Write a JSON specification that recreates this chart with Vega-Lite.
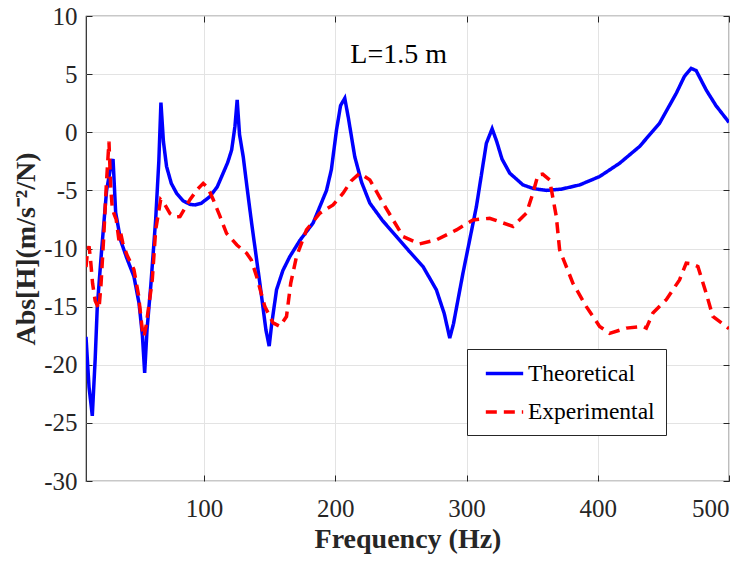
{
  "$schema": "https://vega.github.io/schema/vega-lite/v6.json",
  "width": 643,
  "height": 465,
  "autosize": {"type": "none"},
  "padding": {"left": 86, "top": 16, "right": 24, "bottom": 80},
  "background": "white",
  "config": {
    "font": "Liberation Serif",
    "view": {"stroke": "#262626", "strokeWidth": 1.2},
    "axis": {
      "labelFont": "Liberation Serif",
      "labelFontSize": 25,
      "labelColor": "#262626",
      "labelExpr": "replace(datum.label, '\u2212', '-')",
      "domain": false,
      "tickColor": "#262626",
      "tickSize": -6,
      "gridColor": "#e3e3e3",
      "gridWidth": 1,
      "titleFont": "Liberation Serif",
      "titleFontWeight": "bold",
      "titleFontSize": 28,
      "titleColor": "#262626"
    },
    "legend": {
      "orient": "none",
      "legendX": 381,
      "legendY": 333,
      "strokeColor": "#262626",
      "fillColor": "white",
      "padding": 11,
      "symbolType": "M-1.59,0H1.59",
      "symbolSize": 552,
      "symbolStrokeWidth": 3.5,
      "symbolOffset": 13,
      "labelFont": "Liberation Serif",
      "labelFontSize": 23.5,
      "labelColor": "black",
      "labelOffset": 10,
      "rowPadding": 13.5,
      "title": null
    }
  },
  "datasets": {
    "curves": [
      {"f": 10, "v": -17.6, "series": "Theoretical"},
      {"f": 12.3, "v": -21.9, "series": "Theoretical"},
      {"f": 14.8, "v": -24.4, "series": "Theoretical"},
      {"f": 17, "v": -19.5, "series": "Theoretical"},
      {"f": 18.6, "v": -15, "series": "Theoretical"},
      {"f": 22, "v": -10, "series": "Theoretical"},
      {"f": 25.7, "v": -5, "series": "Theoretical"},
      {"f": 28.5, "v": -3.2, "series": "Theoretical"},
      {"f": 30.6, "v": -2.3, "series": "Theoretical"},
      {"f": 32.6, "v": -6.9, "series": "Theoretical"},
      {"f": 36.4, "v": -9.3, "series": "Theoretical"},
      {"f": 41, "v": -10.8, "series": "Theoretical"},
      {"f": 46.5, "v": -12.4, "series": "Theoretical"},
      {"f": 50.4, "v": -14.7, "series": "Theoretical"},
      {"f": 53, "v": -17.5, "series": "Theoretical"},
      {"f": 54.7, "v": -20.7, "series": "Theoretical"},
      {"f": 56.5, "v": -17, "series": "Theoretical"},
      {"f": 59.3, "v": -13.3, "series": "Theoretical"},
      {"f": 63.1, "v": -7.5, "series": "Theoretical"},
      {"f": 65.5, "v": -2.5, "series": "Theoretical"},
      {"f": 67.1, "v": 2.55, "series": "Theoretical"},
      {"f": 69, "v": -0.8, "series": "Theoretical"},
      {"f": 71.4, "v": -2.95, "series": "Theoretical"},
      {"f": 75, "v": -4.4, "series": "Theoretical"},
      {"f": 79, "v": -5.24, "series": "Theoretical"},
      {"f": 84, "v": -5.9, "series": "Theoretical"},
      {"f": 89.2, "v": -6.2, "series": "Theoretical"},
      {"f": 93, "v": -6.25, "series": "Theoretical"},
      {"f": 98, "v": -6.1, "series": "Theoretical"},
      {"f": 104.4, "v": -5.53, "series": "Theoretical"},
      {"f": 110, "v": -4.7, "series": "Theoretical"},
      {"f": 114.5, "v": -3.52, "series": "Theoretical"},
      {"f": 118, "v": -2.6, "series": "Theoretical"},
      {"f": 121, "v": -1.52, "series": "Theoretical"},
      {"f": 123.5, "v": 0.5, "series": "Theoretical"},
      {"f": 125.2, "v": 2.78, "series": "Theoretical"},
      {"f": 127, "v": -0.2, "series": "Theoretical"},
      {"f": 129.8, "v": -2.1, "series": "Theoretical"},
      {"f": 133, "v": -5, "series": "Theoretical"},
      {"f": 136.2, "v": -7.8, "series": "Theoretical"},
      {"f": 142.5, "v": -13, "series": "Theoretical"},
      {"f": 147.1, "v": -17, "series": "Theoretical"},
      {"f": 149.6, "v": -18.4, "series": "Theoretical"},
      {"f": 151.5, "v": -16.5, "series": "Theoretical"},
      {"f": 155.2, "v": -13.55, "series": "Theoretical"},
      {"f": 160, "v": -11.9, "series": "Theoretical"},
      {"f": 165.3, "v": -10.7, "series": "Theoretical"},
      {"f": 173, "v": -9.3, "series": "Theoretical"},
      {"f": 183.1, "v": -7.8, "series": "Theoretical"},
      {"f": 193.3, "v": -5.0, "series": "Theoretical"},
      {"f": 197, "v": -3.2, "series": "Theoretical"},
      {"f": 200.9, "v": 0.2, "series": "Theoretical"},
      {"f": 204, "v": 2.3, "series": "Theoretical"},
      {"f": 207.2, "v": 2.92, "series": "Theoretical"},
      {"f": 210, "v": 1.2, "series": "Theoretical"},
      {"f": 214.8, "v": -2.1, "series": "Theoretical"},
      {"f": 220, "v": -4.3, "series": "Theoretical"},
      {"f": 226.3, "v": -6.1, "series": "Theoretical"},
      {"f": 236, "v": -7.6, "series": "Theoretical"},
      {"f": 246.6, "v": -8.97, "series": "Theoretical"},
      {"f": 256, "v": -10.2, "series": "Theoretical"},
      {"f": 266.8, "v": -11.55, "series": "Theoretical"},
      {"f": 277, "v": -13.55, "series": "Theoretical"},
      {"f": 283, "v": -15.6, "series": "Theoretical"},
      {"f": 287.2, "v": -17.7, "series": "Theoretical"},
      {"f": 290, "v": -16.5, "series": "Theoretical"},
      {"f": 297.3, "v": -12.1, "series": "Theoretical"},
      {"f": 307.5, "v": -6.4, "series": "Theoretical"},
      {"f": 315.1, "v": -0.95, "series": "Theoretical"},
      {"f": 319.5, "v": 0.3, "series": "Theoretical"},
      {"f": 323, "v": -0.8, "series": "Theoretical"},
      {"f": 327, "v": -2.3, "series": "Theoretical"},
      {"f": 332.9, "v": -3.52, "series": "Theoretical"},
      {"f": 343, "v": -4.53, "series": "Theoretical"},
      {"f": 351, "v": -4.85, "series": "Theoretical"},
      {"f": 360.8, "v": -5.0, "series": "Theoretical"},
      {"f": 372, "v": -4.9, "series": "Theoretical"},
      {"f": 386.2, "v": -4.53, "series": "Theoretical"},
      {"f": 401.4, "v": -3.81, "series": "Theoretical"},
      {"f": 416.6, "v": -2.67, "series": "Theoretical"},
      {"f": 431.8, "v": -1.23, "series": "Theoretical"},
      {"f": 447.1, "v": 0.78, "series": "Theoretical"},
      {"f": 459.8, "v": 3.35, "series": "Theoretical"},
      {"f": 466, "v": 4.8, "series": "Theoretical"},
      {"f": 471.2, "v": 5.5, "series": "Theoretical"},
      {"f": 475, "v": 5.3, "series": "Theoretical"},
      {"f": 482.6, "v": 3.64, "series": "Theoretical"},
      {"f": 490, "v": 2.3, "series": "Theoretical"},
      {"f": 500, "v": 0.85, "series": "Theoretical"},
      {"f": 10, "v": -11.6, "series": "Experimental"},
      {"f": 11.2, "v": -10.2, "series": "Experimental"},
      {"f": 12.3, "v": -9.8, "series": "Experimental"},
      {"f": 13.5, "v": -11, "series": "Experimental"},
      {"f": 15, "v": -13, "series": "Experimental"},
      {"f": 17, "v": -14.5, "series": "Experimental"},
      {"f": 19.9, "v": -15.2, "series": "Experimental"},
      {"f": 21.5, "v": -13, "series": "Experimental"},
      {"f": 23.5, "v": -9, "series": "Experimental"},
      {"f": 25.5, "v": -4.5, "series": "Experimental"},
      {"f": 27.5, "v": -0.8, "series": "Experimental"},
      {"f": 28.8, "v": -4.67, "series": "Experimental"},
      {"f": 30, "v": -6.5, "series": "Experimental"},
      {"f": 31.3, "v": -7, "series": "Experimental"},
      {"f": 33, "v": -7.5, "series": "Experimental"},
      {"f": 35.1, "v": -9.3, "series": "Experimental"},
      {"f": 36.5, "v": -8.7, "series": "Experimental"},
      {"f": 38, "v": -9.5, "series": "Experimental"},
      {"f": 41, "v": -10.5, "series": "Experimental"},
      {"f": 46.5, "v": -11.8, "series": "Experimental"},
      {"f": 50, "v": -14, "series": "Experimental"},
      {"f": 52.9, "v": -17.0, "series": "Experimental"},
      {"f": 54.2, "v": -17.6, "series": "Experimental"},
      {"f": 56, "v": -16.5, "series": "Experimental"},
      {"f": 60.5, "v": -12.7, "series": "Experimental"},
      {"f": 63.1, "v": -8.4, "series": "Experimental"},
      {"f": 66.9, "v": -5.8, "series": "Experimental"},
      {"f": 70, "v": -6.2, "series": "Experimental"},
      {"f": 74, "v": -7.0, "series": "Experimental"},
      {"f": 78, "v": -7.3, "series": "Experimental"},
      {"f": 81.6, "v": -7.25, "series": "Experimental"},
      {"f": 85, "v": -6.6, "series": "Experimental"},
      {"f": 89.2, "v": -5.8, "series": "Experimental"},
      {"f": 95, "v": -4.9, "series": "Experimental"},
      {"f": 99.3, "v": -4.4, "series": "Experimental"},
      {"f": 103, "v": -4.8, "series": "Experimental"},
      {"f": 107, "v": -5.8, "series": "Experimental"},
      {"f": 112, "v": -7.2, "series": "Experimental"},
      {"f": 117.1, "v": -8.7, "series": "Experimental"},
      {"f": 125, "v": -9.7, "series": "Experimental"},
      {"f": 132.4, "v": -10.4, "series": "Experimental"},
      {"f": 136, "v": -11, "series": "Experimental"},
      {"f": 140, "v": -12.4, "series": "Experimental"},
      {"f": 146.3, "v": -15, "series": "Experimental"},
      {"f": 152.6, "v": -16.4, "series": "Experimental"},
      {"f": 157.7, "v": -16.7, "series": "Experimental"},
      {"f": 162.8, "v": -15.85, "series": "Experimental"},
      {"f": 166, "v": -13, "series": "Experimental"},
      {"f": 170.4, "v": -10.7, "series": "Experimental"},
      {"f": 178, "v": -8.4, "series": "Experimental"},
      {"f": 188.2, "v": -6.96, "series": "Experimental"},
      {"f": 198.3, "v": -6.25, "series": "Experimental"},
      {"f": 205.9, "v": -5.24, "series": "Experimental"},
      {"f": 212, "v": -4.2, "series": "Experimental"},
      {"f": 218.6, "v": -3.52, "series": "Experimental"},
      {"f": 226.3, "v": -4.1, "series": "Experimental"},
      {"f": 236.4, "v": -6.1, "series": "Experimental"},
      {"f": 251.6, "v": -8.97, "series": "Experimental"},
      {"f": 264.3, "v": -9.6, "series": "Experimental"},
      {"f": 277, "v": -9.26, "series": "Experimental"},
      {"f": 292.3, "v": -8.4, "series": "Experimental"},
      {"f": 304.9, "v": -7.54, "series": "Experimental"},
      {"f": 317.6, "v": -7.4, "series": "Experimental"},
      {"f": 335.4, "v": -8.1, "series": "Experimental"},
      {"f": 345.6, "v": -6.96, "series": "Experimental"},
      {"f": 350.6, "v": -5.24, "series": "Experimental"},
      {"f": 354.4, "v": -3.67, "series": "Experimental"},
      {"f": 358, "v": -3.6, "series": "Experimental"},
      {"f": 363.3, "v": -4.1, "series": "Experimental"},
      {"f": 368.4, "v": -7.25, "series": "Experimental"},
      {"f": 370.9, "v": -10.1, "series": "Experimental"},
      {"f": 381.1, "v": -13.0, "series": "Experimental"},
      {"f": 391.3, "v": -15, "series": "Experimental"},
      {"f": 401.4, "v": -16.7, "series": "Experimental"},
      {"f": 409, "v": -17.3, "series": "Experimental"},
      {"f": 421.7, "v": -16.85, "series": "Experimental"},
      {"f": 434.4, "v": -16.7, "series": "Experimental"},
      {"f": 437, "v": -16.85, "series": "Experimental"},
      {"f": 442, "v": -15.55, "series": "Experimental"},
      {"f": 452.2, "v": -14.4, "series": "Experimental"},
      {"f": 462.3, "v": -12.7, "series": "Experimental"},
      {"f": 467.4, "v": -11.26, "series": "Experimental"},
      {"f": 471, "v": -11.3, "series": "Experimental"},
      {"f": 476.3, "v": -11.55, "series": "Experimental"},
      {"f": 482.6, "v": -13.84, "series": "Experimental"},
      {"f": 487.7, "v": -15.85, "series": "Experimental"},
      {"f": 497.9, "v": -16.7, "series": "Experimental"},
      {"f": 500, "v": -16.9, "series": "Experimental"}
    ],
    "note": [
      {"f": 248.3, "v": 5.93, "label": "L=1.5 m"}
    ]
  },
  "layer": [
    {
      "data": {"name": "curves"},
      "mark": {"type": "line", "strokeWidth": 3.5, "clip": true},
      "encoding": {
        "x": {
          "field": "f", "type": "quantitative",
          "scale": {"domain": [10, 500], "nice": false, "zero": false},
          "axis": {"title": "Frequency (Hz)", "values": [100, 200, 300, 400, 500], "grid": true, "labelPadding": 21.4, "titlePadding": 4}
        },
        "y": {
          "field": "v", "type": "quantitative",
          "scale": {"domain": [-30, 10], "nice": false, "zero": false},
          "axis": {"title": "Abs[H](m/s⁻²/N)", "values": [-30, -25, -20, -15, -10, -5, 0, 5, 10], "grid": true, "labelPadding": 15, "titlePadding": 3}
        },
        "color": {
          "field": "series", "type": "nominal",
          "scale": {"domain": ["Theoretical", "Experimental"], "range": ["#0000ff", "#ff0000"]},
          "legend": {"labelExpr": "datum.label + '\u00a0\u00a0'"}
        },
        "strokeDash": {
          "field": "series", "type": "nominal",
          "scale": {"domain": ["Theoretical", "Experimental"], "range": [[1, 0], [11, 7]]},
          "legend": {"labelExpr": "datum.label + '\u00a0\u00a0'"}
        }
      }
    },
    {
      "data": {"name": "note"},
      "mark": {"type": "text", "fontSize": 28, "font": "Liberation Serif", "color": "black", "align": "center", "baseline": "alphabetic"},
      "encoding": {
        "x": {
          "field": "f", "type": "quantitative",
          "axis": {"orient": "top", "labels": false, "grid": false, "title": null, "values": [100, 200, 300, 400, 500]}
        },
        "y": {
          "field": "v", "type": "quantitative",
          "axis": {"orient": "right", "labels": false, "grid": false, "title": null, "values": [-30, -25, -20, -15, -10, -5, 0, 5, 10]}
        },
        "text": {"field": "label"}
      }
    }
  ],
  "resolve": {"axis": {"x": "independent", "y": "independent"}}
}
